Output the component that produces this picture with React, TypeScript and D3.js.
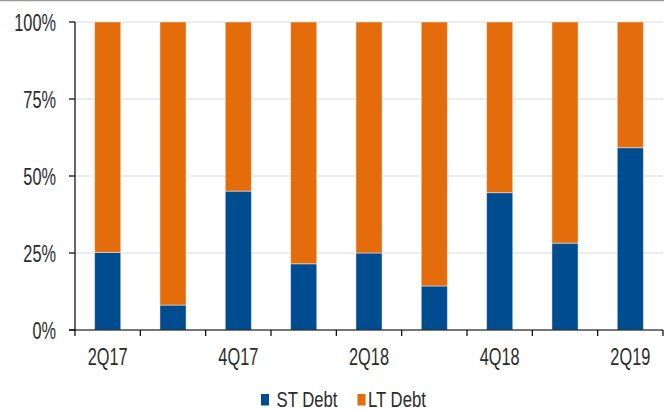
import React from "react";
import * as d3 from "d3";

const categories = ["2Q17", "3Q17", "4Q17", "1Q18", "2Q18", "3Q18", "4Q18", "1Q19", "2Q19"];
const tickLabels = ["2Q17", "", "4Q17", "", "2Q18", "", "4Q18", "", "2Q19"];
const stDebt = [25.2, 8.1, 45.1, 21.5, 25, 14.3, 44.6, 28.2, 59.2];
const ltDebt = stDebt.map((v) => 100 - v);
const yTicks = [0, 25, 50, 75, 100];
const seriesNames = ["ST Debt", "LT Debt"];
const seriesColors = ["#004C91", "#E46C0A"];

const W = 664;
const H = 410;
const FONT = "'Liberation Sans', Arial, Helvetica, sans-serif";
const FS = 23;
const SX = 0.71;

export default function App() {
  const x = d3.scaleBand<string>().domain(categories).range([75, 663]).paddingInner(0.6).paddingOuter(0.3);
  const band = d3.scaleBand<string>().domain(categories).range([75, 663]);
  const y = d3.scaleLinear().domain([0, 100]).range([330, 22]);

  const rows = categories.map((c, i) => ({ cat: c, st: stDebt[i], lt: ltDebt[i] }));
  const stack = d3.stack<any>().keys(["st", "lt"])(rows);

  const Label = ({ tx, ty, anchor, sx = SX, fs = FS, children }: any) => (
    <g transform={`translate(${tx},${ty}) scale(${sx},1)`}>
      <text x={0} y={0} textAnchor={anchor} fontFamily={FONT} fontSize={fs} fill="#2b2b2b">
        {children}
      </text>
    </g>
  );

  const legendPos = [
    { sq: 261, tx: 276.5 },
    { sq: 357.5, tx: 368 },
  ];

  return (
    <svg width={W} height={H} style={{ position: "absolute", left: 0, top: 0, background: "#fff" }}>
      <line x1={0} x2={W} y1={0.5} y2={0.5} stroke="#9a9a9a" strokeWidth={1.5} />
      {yTicks.map((t) => (
        <line key={"g" + t} x1={75} x2={663} y1={y(t)} y2={y(t)} stroke="#dcdcdc" strokeWidth={1.2} />
      ))}
      {stack.map((s, si) =>
        s.map((d: any, i: number) => (
          <rect
            key={si + "-" + i}
            x={x(categories[i])}
            width={x.bandwidth()}
            y={y(d[1])}
            height={y(d[0]) - y(d[1])}
            fill={seriesColors[si]}
            stroke="rgba(255,255,255,0.45)"
            strokeWidth={1}
          />
        ))
      )}
      {/* axes */}
      <line x1={75} x2={75} y1={22} y2={330} stroke="#000" strokeWidth={1.2} />
      <line x1={69} x2={663} y1={330} y2={330} stroke="#000" strokeWidth={1.2} />
      {yTicks.map((t) => (
        <g key={"yt" + t}>
          <line x1={69} x2={75} y1={y(t)} y2={y(t)} stroke="#000" strokeWidth={1.2} />
          <Label tx={56} ty={y(t) + 8.5} anchor="end">{t + "%"}</Label>
        </g>
      ))}
      {categories.map((c) => (
        <line key={"xt" + c} x1={band(c)!} x2={band(c)!} y1={330} y2={336} stroke="#000" strokeWidth={1.2} />
      ))}
      <line x1={663} x2={663} y1={330} y2={336} stroke="#000" strokeWidth={1.2} />
      {categories.map((c, i) =>
        tickLabels[i] ? (
          <Label key={"xl" + c} tx={band(c)! + band.bandwidth() / 2} ty={365} anchor="middle">
            {tickLabels[i]}
          </Label>
        ) : null
      )}
      {/* legend */}
      {seriesNames.map((n, i) => (
        <g key={n}>
          <rect x={legendPos[i].sq} y={394} width={8} height={11.5} fill={seriesColors[i]} />
          <Label tx={legendPos[i].tx} ty={406.5} anchor="start" sx={0.76} fs={22}>{n}</Label>
        </g>
      ))}
    </svg>
  );
}
